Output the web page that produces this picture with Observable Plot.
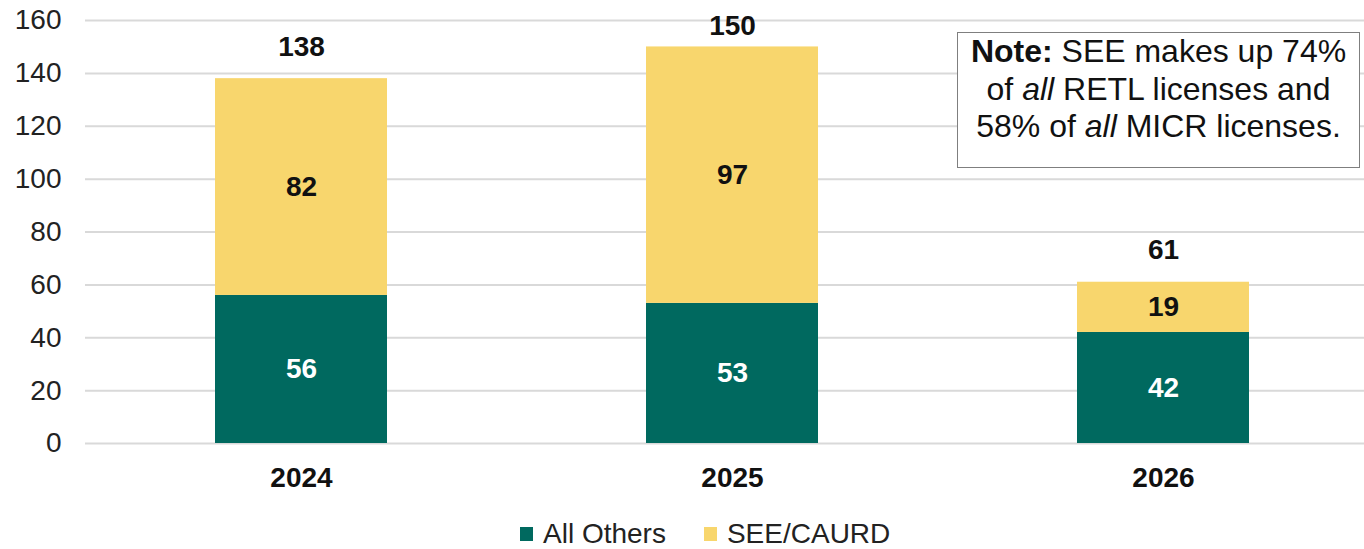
<!DOCTYPE html>
<html>
<head>
<meta charset="utf-8">
<script src="https://cdn.jsdelivr.net/npm/d3@7"></script>
<script src="https://cdn.jsdelivr.net/npm/@observablehq/plot@0.6"></script>
<style>
  html, body { margin: 0; padding: 0; background: #fff; }
  #wrap { position: relative; width: 1364px; height: 549px; overflow: hidden; font-family: Arial, "Liberation Sans", sans-serif; }
  #note { position: absolute; left: 957px; top: 32px; width: 401px; height: 134px; border: 1.5px solid #7f7f7f; background: #fff;
          font-size: 32px; line-height: 37.5px; text-align: center; color: #111; padding-top: 0px; box-sizing: content-box; white-space: nowrap; }
  #legend { position: absolute; top: 518px; left: 0; width: 1364px; display: flex; justify-content: flex-start; padding-left: 520px; box-sizing: border-box;
            font-size: 28px; color: #222; align-items: center; }
  .item { display: flex; align-items: center; margin-right: 38px; }
  .sw { width: 13px; height: 14px; margin-right: 10px; }
</style>
</head>
<body>
<div id="wrap">
  <div id="chart"></div>
  <div id="note"><b>Note:</b> SEE makes up 74%<br>of <i>all</i> RETL licenses and<br>58% of <i>all</i> MICR licenses.</div>
  <div id="legend"></div>
</div>
<script>
const years = ["2024", "2025", "2026"];
const series = ["All Others", "SEE/CAURD"];
const allOthers = [56, 53, 42];
const seeCaurd = [82, 97, 19];
const colors = ["#00695F", "#F8D66D"];
const labelColors = ["#ffffff", "#111111"];
const yTicks = [0, 20, 40, 60, 80, 100, 120, 140, 160];

const rows = [];
years.forEach((yr, i) => {
  let base = 0;
  [allOthers[i], seeCaurd[i]].forEach((v, s) => {
    rows.push({year: yr, series: series[s], value: v, y1: base, y2: base + v, mid: base + v / 2, s});
    base += v;
  });
});
const totals = years.map((yr, i) => ({year: yr, total: allOthers[i] + seeCaurd[i]}));
// total labels sit a fixed distance above each bar, kept inside the plot area
const totalLabelY = d => Math.min(d.total + 12, 157.8);

const plot = Plot.plot({
  width: 1364,
  height: 500,
  marginLeft: 85,
  marginRight: 0,
  marginTop: 20,
  marginBottom: 57,
  style: {fontFamily: "Arial, 'Liberation Sans', sans-serif", fontSize: "28px", color: "#222", background: "#fff"},
  x: {domain: years, range: [85, 1380], paddingInner: 0.6, paddingOuter: 0.3, label: null},
  y: {domain: [0, 160], label: null},
  color: {domain: series, range: colors},
  marks: [
    Plot.ruleY(yTicks, {stroke: "#d9d9d9", strokeWidth: 2}),
    Plot.barY(rows, {x: "year", y1: "y1", y2: "y2", fill: "series"}),
    Plot.text(rows.filter(d => d.s === 0), {x: "year", y: "mid", text: "value", fill: labelColors[0], fontWeight: "bold", fontSize: 28}),
    Plot.text(rows.filter(d => d.s === 1), {x: "year", y: "mid", text: "value", fill: labelColors[1], fontWeight: "bold", fontSize: 28}),
    Plot.text(totals, {x: "year", y: totalLabelY, text: "total", fill: "#111", fontWeight: "bold", fontSize: 28}),
    Plot.axisY({ticks: yTicks, tickSize: 0, tickPadding: 24, label: null, fontSize: 28}),
    Plot.axisX({tickSize: 0, tickPadding: 24, label: null, fontWeight: "bold", fontSize: 28, fill: "#111"})
  ]
});
document.getElementById("chart").appendChild(plot);

const legend = document.getElementById("legend");
series.forEach((s, i) => {
  const item = document.createElement("div");
  item.className = "item";
  const sw = document.createElement("div");
  sw.className = "sw";
  sw.style.background = colors[i];
  const t = document.createElement("span");
  t.textContent = s;
  item.appendChild(sw);
  item.appendChild(t);
  legend.appendChild(item);
});
</script>
</body>
</html>
